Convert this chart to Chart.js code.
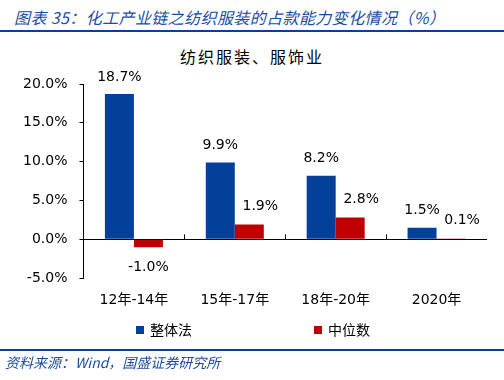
<!DOCTYPE html>
<html>
<head>
<meta charset="utf-8">
<script src="https://cdn.jsdelivr.net/npm/chart.js@4"></script>
<style>
  html,body{margin:0;padding:0;background:#fff;}
  #wrap{position:relative;width:504px;height:380px;overflow:hidden;font-family:"DejaVu Sans","Noto Sans CJK SC",sans-serif;}
  #head{position:absolute;left:14px;top:5px;font:italic 16px "Noto Sans CJK SC",sans-serif;color:#1c4c9c;white-space:nowrap;letter-spacing:0.4px;}
  .rule{position:absolute;left:0;width:504px;height:2px;background:#0b3f94;}
  #sub{position:absolute;left:0;width:504px;top:44px;text-align:center;font:16px "Noto Sans CJK SC",serif;letter-spacing:2px;color:#000;}
  #src{position:absolute;left:5px;top:352px;font:italic 14px "Noto Sans CJK SC",sans-serif;color:#1c4c9c;white-space:nowrap;}
  #legend{position:absolute;top:319px;left:0;width:504px;font:14px "Noto Sans CJK SC",sans-serif;color:#000;}
  .lg{position:absolute;white-space:nowrap;}
  .lg i{display:inline-block;width:8px;height:8px;margin-right:6px;vertical-align:1px;}
  canvas{position:absolute;left:0;top:0;}
</style>
</head>
<body>
<div id="wrap">
  <div id="head">图表 35：化工产业链之纺织服装的占款能力变化情况（%）</div>
  <div class="rule" style="top:30px"></div>
  <div id="sub">纺织服装、服饰业</div>
  <canvas id="chart" width="504" height="380"></canvas>
  <div id="legend"></div>
  <div class="rule" style="top:349px"></div>
  <div id="src">资料来源：Wind，国盛证券研究所</div>
</div>
<script>
const $ = q => document.querySelector(q);

/* ---------- 数据 ---------- */
const periods  = ['12年-14年','15年-17年','18年-20年','2020年'];
const overall  = [18.7, 9.9, 8.2, 1.5];   // 整体法
const median   = [-1.0, 1.9, 2.8, 0.1];   // 中位数
const yTicks   = [-5, 0, 5, 10, 15, 20];

const BLUE = '#02409a', RED = '#c00000';

/* ---------- legend (html) ---------- */
[['整体法',BLUE,136],['中位数',RED,314]].forEach(([t,c,x])=>{
  const s=document.createElement('span');
  s.className='lg'; s.style.left=x+'px';
  s.innerHTML=`<i style="background:${c}"></i>${t}`;
  $('#legend').appendChild(s);
});

/* ---------- 数值标签 + 零线刻度 ---------- */
const barLabels = {
  id:'barLabels',
  afterDatasetsDraw(c){
    const ctx=c.ctx;
    ctx.save();
    ctx.font='14px "DejaVu Sans"';
    ctx.fillStyle='#000';
    ctx.textAlign='center'; ctx.textBaseline='middle';
    c.data.datasets.forEach((ds,di)=>{
      c.getDatasetMeta(di).data.forEach((bar,i)=>{
        const v=ds.data[i];
        let dx=0, y;
        if(v<0) y=bar.y+20;
        else if(di===1){ dx=11; y=bar.y-18; }   // 红柱标签偏右
        else y=bar.y-17;
        ctx.fillText(v.toFixed(1)+'%',bar.x+dx,y);
      });
    });
    // 零线上的分类刻度
    const xs=c.scales.x, y0=c.scales.y.getPixelForValue(0);
    const w=(xs.right-xs.left)/periods.length;
    ctx.strokeStyle='#000'; ctx.lineWidth=1;
    for(let i=1;i<periods.length;i++){
      const px=Math.round(xs.left+w*i)+0.5;
      ctx.beginPath(); ctx.moveTo(px,y0); ctx.lineTo(px,y0-5); ctx.stroke();
    }
    ctx.restore();
  }
};

new Chart($('#chart').getContext('2d'),{
  type:'bar',
  data:{
    labels:periods,
    datasets:[
      {label:'整体法',data:overall,backgroundColor:BLUE},
      {label:'中位数',data:median,backgroundColor:RED}
    ]
  },
  options:{
    responsive:false,animation:false,
    layout:{padding:{left:11,right:17,top:84,bottom:57}},
    datasets:{bar:{categoryPercentage:0.575,barPercentage:1.0}},
    plugins:{legend:{display:false},tooltip:{enabled:false}},
    scales:{
      x:{
        grid:{display:false,drawTicks:false},
        border:{display:false},
        ticks:{color:'#000',padding:14,font:{family:'"DejaVu Sans","Noto Sans CJK SC"',size:14},maxRotation:0}
      },
      y:{
        min:-5,max:20,
        afterBuildTicks:s=>{s.ticks=yTicks.map(v=>({value:v}));},
        grid:{
          drawOnChartArea:true,tickLength:4,
          color:ctx=>ctx.tick&&ctx.tick.value===0?'#000':'rgba(0,0,0,0)',
          tickColor:'#000'
        },
        border:{display:true,color:'#000'},
        ticks:{color:'#000',padding:12,font:{family:'"DejaVu Sans"',size:14},
          callback:v=>v.toFixed(1)+'%'}
      }
    }
  },
  plugins:[barLabels]
});
</script>
</body>
</html>
